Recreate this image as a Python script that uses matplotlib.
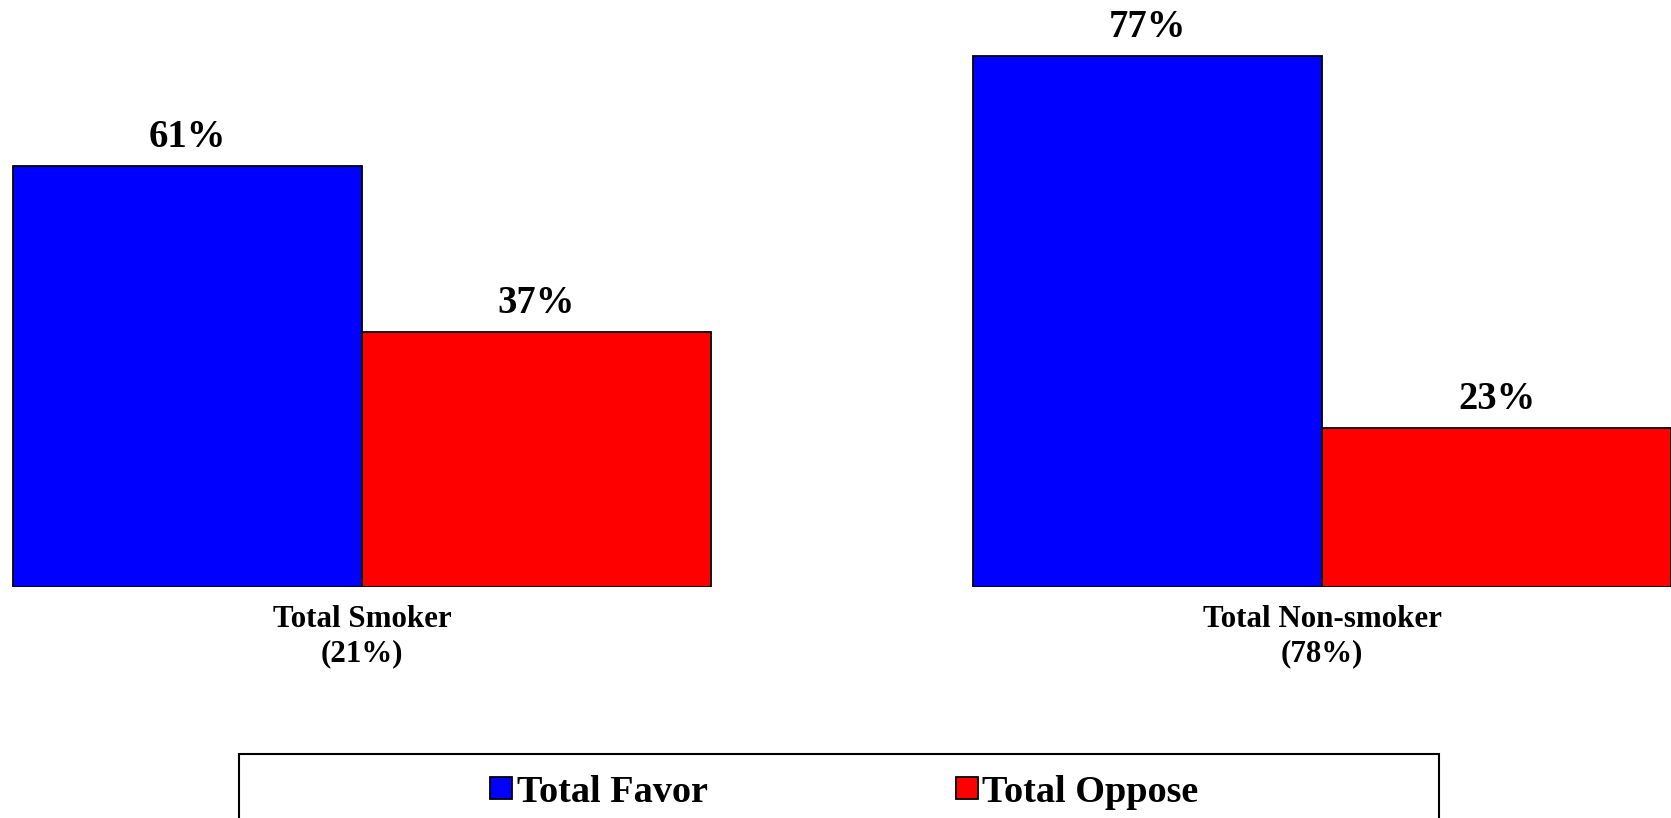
import matplotlib
matplotlib.use("Agg")
import matplotlib.pyplot as plt
from matplotlib.patches import Rectangle
import numpy as np

categories = ["Total Smoker\n(21%)", "Total Non-smoker\n(78%)"]
series_names = ["Total Favor", "Total Oppose"]
favor = [61, 77]
oppose = [37, 23]
colors = ["#0000FF", "#FF0000"]

FONT = 'Liberation Serif'
W, H = 1671, 818
fig = plt.figure(figsize=(W / 100, H / 100), dpi=100)

axis_bottom_px = 587
px_per_pct = 6.9
ax = fig.add_axes([0, (H - axis_bottom_px) / H, 1, axis_bottom_px / H])
ax.set_ylim(0, axis_bottom_px / px_per_pct)
group_px = 960.0
g0_px = 362.0
ax.set_xlim((0 - g0_px) / group_px, (W - g0_px) / group_px)
ax.axis('off')

x = np.arange(len(categories))
w = 349 / group_px
b1 = ax.bar(x - w, favor, width=w, align='edge', color=colors[0],
            edgecolor='black', linewidth=1.3, label=series_names[0])
b2 = ax.bar(x, oppose, width=w, align='edge', color=colors[1],
            edgecolor='black', linewidth=1.3, label=series_names[1])

for bars, vals in ((b1, favor), (b2, oppose)):
    for rect, v in zip(bars, vals):
        ax.annotate(f"{v}%", xy=(rect.get_x() + rect.get_width() / 2, rect.get_height()),
                    xytext=(0, 13.7), textcoords='offset points', ha='center',
                    va='baseline', fontsize=27.8, family=FONT, weight='bold',
                    annotation_clip=False)

for xi, lab in zip(x, categories):
    ax.annotate(lab, xy=(xi, 0), xytext=(0, -53.2), textcoords='offset points',
                ha='center', va='baseline', fontsize=22.3, family=FONT, weight='bold',
                linespacing=1.2, multialignment='center', annotation_clip=False)

# legend frame
fig.patches.append(Rectangle((239 / W, -0.1), (1439 - 239) / W, 0.1 + (H - 754) / H,
                             transform=fig.transFigure, fill=False,
                             edgecolor='black', linewidth=1.5))

leg = fig.legend(handles=[b1, b2], labels=series_names, loc='center left',
                 bbox_to_anchor=(490 / W, 1 - 792 / H), ncol=2, frameon=False,
                 prop={'family': FONT, 'weight': 'bold', 'size': 27.5},
                 handlelength=0.576, handleheight=0.52, handletextpad=0.12,
                 columnspacing=6.5, borderpad=0, borderaxespad=0)

fig.savefig("out.png", dpi=100)
